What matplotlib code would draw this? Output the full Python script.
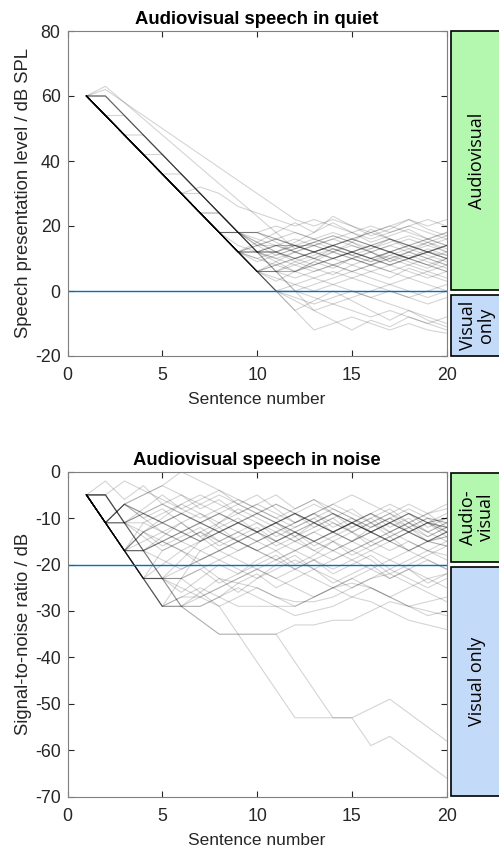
import matplotlib
matplotlib.use("Agg")
import matplotlib.pyplot as plt
from matplotlib.patches import Rectangle

plt.rcParams['font.family'] = ['Liberation Sans', 'DejaVu Sans']
plt.rcParams['axes.unicode_minus'] = False

sentences = list(range(1, 21))

# adaptive tracks, speech in quiet (dB SPL)
quiet_tracks = [
    [60, 54, 48, 42, 36, 30, 24, 18, 12, 12, 14, 14, 12, 14, 16, 14, 12, 14, 12, 10],
    [60, 54, 48, 42, 36, 30, 24, 18, 12, 6, 6, 8, 6, 8, 10, 8, 10, 12, 10, 8],
    [60, 54, 48, 42, 36, 30, 24, 18, 12, 6, 0, 2, 4, 6, 4, 6, 8, 6, 4, 6],
    [60, 60, 54, 48, 42, 36, 30, 24, 18, 12, 6, 0, -6, -4, -2, 0, 2, 0, -2, 0],
    [60, 54, 48, 42, 36, 30, 24, 18, 18, 14, 14, 14, 14, 16, 14, 12, 14, 16, 14, 12],
    [60, 54, 48, 42, 36, 30, 24, 18, 12, 6, 0, -6, -12, -10, -8, -10, -12, -10, -12, -13],
    [60, 63, 58, 53, 48, 43, 38, 33, 28, 23, 18, 13, 15, 17, 15, 13, 15, 17, 15, 13],
    [60, 54, 48, 42, 36, 30, 32, 30, 26, 24, 22, 20, 22, 20, 18, 16, 18, 20, 18, 16],
    [60, 54, 54, 48, 42, 36, 30, 24, 18, 18, 16, 14, 12, 10, 12, 10, 8, 10, 8, 10],
    [60, 54, 48, 48, 42, 36, 30, 24, 18, 12, 10, 12, 10, 8, 10, 12, 14, 12, 10, 12],
    [60, 54, 48, 42, 42, 36, 30, 24, 18, 12, 12, 10, 12, 14, 12, 10, 12, 10, 12, 14],
    [60, 54, 48, 42, 36, 36, 30, 24, 18, 12, 14, 12, 10, 12, 10, 8, 6, 8, 10, 8],
    [60, 54, 48, 42, 36, 30, 30, 24, 18, 12, 6, 6, 8, 10, 12, 10, 12, 14, 12, 10],
    [60, 54, 48, 42, 36, 30, 24, 24, 18, 12, 12, 14, 16, 14, 16, 18, 16, 14, 16, 14],
    [60, 54, 48, 42, 36, 30, 24, 18, 12, 14, 16, 18, 16, 14, 12, 14, 12, 10, 12, 14],
    [60, 54, 48, 42, 36, 30, 24, 18, 12, 6, 8, 6, 4, 2, 0, -2, 0, -2, -4, -2],
    [60, 54, 48, 42, 36, 30, 24, 18, 12, 6, 6, 6, 8, 10, 12, 14, 12, 10, 8, 6],
    [60, 54, 48, 42, 36, 30, 24, 18, 18, 18, 20, 18, 16, 18, 16, 14, 12, 14, 16, 18],
    [60, 54, 48, 42, 36, 30, 24, 18, 12, 6, 0, 0, -2, -4, -6, -8, -6, -8, -10, -8],
    [60, 60, 54, 48, 42, 36, 30, 24, 18, 12, 12, 10, 12, 14, 16, 14, 12, 10, 12, 14],
    [60, 54, 48, 42, 36, 30, 24, 18, 12, 12, 12, 14, 12, 10, 8, 10, 12, 10, 8, 6],
    [60, 54, 48, 42, 36, 30, 24, 18, 18, 16, 14, 12, 14, 16, 18, 20, 18, 20, 22, 20],
    [60, 54, 48, 42, 36, 30, 24, 18, 12, 6, 4, 2, 0, 2, 4, 2, 0, -2, 0, 2],
    [60, 54, 48, 42, 36, 30, 24, 18, 12, 14, 16, 14, 12, 10, 12, 14, 16, 14, 12, 14],
    [60, 60, 54, 48, 42, 36, 30, 24, 18, 18, 16, 14, 12, 14, 12, 10, 8, 10, 12, 10],
    [60, 54, 48, 42, 36, 30, 24, 18, 12, 6, 8, 10, 12, 14, 12, 14, 16, 14, 12, 14],
    [60, 54, 48, 42, 36, 30, 24, 18, 12, 12, 10, 8, 10, 8, 6, 8, 10, 8, 6, 4],
    [60, 62, 58, 54, 50, 46, 42, 38, 34, 30, 26, 22, 20, 22, 20, 18, 20, 22, 20, 22],
    [60, 54, 48, 42, 36, 30, 24, 18, 12, 6, 0, -2, -4, -2, 0, -2, -4, -6, -8, -10],
    [60, 54, 48, 42, 36, 30, 24, 18, 12, 10, 12, 10, 8, 10, 12, 10, 8, 10, 12, 10],
    [60, 54, 48, 42, 36, 30, 24, 18, 12, 6, 6, 4, 6, 8, 6, 4, 2, 4, 2, 0],
    [60, 54, 48, 42, 36, 30, 24, 18, 14, 12, 14, 16, 14, 12, 14, 12, 10, 12, 14, 16],
    [60, 54, 48, 42, 36, 30, 24, 18, 12, 10, 8, 10, 12, 14, 16, 18, 20, 18, 16, 18],
    [60, 60, 54, 48, 42, 36, 30, 24, 18, 12, 6, 0, 2, 4, 6, 8, 6, 4, 6, 8],
    [60, 54, 48, 42, 36, 30, 24, 18, 12, 6, 9, 12, 10, 13, 11, 9, 12, 10, 13, 11],
    [60, 54, 48, 42, 36, 30, 24, 18, 18, 15, 12, 15, 18, 21, 18, 15, 17, 19, 16, 14],
    [60, 54, 48, 42, 36, 30, 24, 18, 12, 6, 0, -6, -3, 0, -3, -6, -9, -6, -9, -11],
    [60, 54, 48, 42, 36, 30, 24, 18, 12, 15, 18, 21, 18, 23, 20, 17, 19, 22, 19, 17],
    [60, 54, 48, 42, 36, 30, 24, 24, 18, 15, 12, 9, 11, 13, 11, 9, 11, 13, 11, 9],
    [60, 54, 48, 42, 36, 30, 24, 18, 12, 12, 9, 6, 9, 7, 10, 8, 11, 9, 7, 10],
    [60, 54, 48, 42, 36, 30, 24, 18, 12, 6, 3, 6, 9, 12, 15, 12, 9, 12, 15, 12],
    [60, 60, 54, 48, 42, 36, 30, 24, 18, 14, 11, 13, 15, 13, 11, 13, 16, 14, 12, 11],
    [60, 54, 48, 42, 36, 30, 24, 18, 12, 6, 0, -3, -6, -9, -12, -9, -11, -8, -10, -12],
    [60, 54, 48, 42, 36, 30, 24, 18, 12, 9, 11, 13, 15, 17, 15, 19, 16, 13, 15, 17],
    [60, 54, 48, 42, 36, 30, 24, 18, 18, 18, 15, 12, 14, 12, 10, 12, 9, 11, 9, 7],
    [60, 54, 48, 42, 36, 30, 24, 18, 12, 6, 6, 9, 7, 5, 8, 6, 4, 7, 5, 3],
]

# adaptive tracks, speech in noise (SNR dB)
noise_tracks = [
    [-5, -11, -17, -23, -23, -21, -19, -17, -15, -17, -15, -13, -15, -13, -11, -13, -15, -13, -11, -13],
    [-5, -11, -17, -17, -15, -13, -15, -13, -11, -13, -11, -9, -11, -13, -11, -9, -11, -13, -11, -12],
    [-5, -11, -7, -9, -11, -9, -7, -9, -11, -13, -11, -9, -11, -13, -15, -13, -11, -13, -15, -13],
    [-5, -5, -11, -17, -23, -29, -27, -25, -23, -21, -23, -25, -27, -25, -23, -25, -27, -25, -23, -25],
    [-5, -11, -11, -9, -7, -9, -11, -13, -11, -9, -7, -9, -11, -9, -11, -13, -11, -9, -11, -10],
    [-5, -11, -17, -13, -11, -13, -15, -13, -11, -13, -15, -17, -15, -13, -15, -17, -15, -13, -15, -14],
    [-5, -11, -17, -23, -29, -29, -32, -35, -35, -35, -35, -41, -47, -53, -53, -59, -57, -60, -63, -66],
    [-5, -5, -11, -17, -23, -23, -26, -29, -35, -41, -47, -53, -53, -53, -53, -51, -49, -52, -55, -58],
    [-5, -11, -17, -23, -23, -29, -32, -35, -35, -35, -35, -33, -33, -32, -32, -30, -28, -29, -30, -31],
    [-5, -11, -17, -17, -23, -23, -21, -19, -21, -23, -21, -19, -21, -23, -25, -23, -21, -23, -25, -23],
    [-5, -5, -11, -11, -9, -7, -5, -7, -9, -7, -9, -11, -9, -7, -9, -11, -9, -11, -9, -8],
    [-5, -11, -7, -5, -3, -5, -7, -5, -7, -9, -11, -9, -7, -9, -11, -13, -11, -13, -11, -12],
    [-5, -11, -17, -23, -23, -25, -27, -29, -27, -25, -27, -29, -27, -25, -27, -25, -27, -29, -31, -30],
    [-5, -5, -2, -4, -6, -8, -10, -8, -6, -8, -10, -12, -10, -8, -10, -12, -10, -8, -10, -11],
    [-5, -11, -17, -23, -29, -23, -17, -15, -13, -15, -17, -15, -13, -11, -13, -15, -13, -11, -13, -15],
    [-5, -11, -7, -5, -3, 0, -2, -4, -6, -8, -10, -8, -6, -8, -10, -12, -10, -12, -14, -12],
    [-5, -11, -17, -17, -15, -17, -19, -17, -15, -17, -19, -21, -19, -17, -19, -21, -19, -17, -19, -21],
    [-5, -11, -11, -17, -15, -13, -11, -13, -15, -17, -15, -13, -15, -17, -15, -13, -15, -13, -15, -16],
    [-5, -11, -17, -23, -29, -29, -26, -23, -24, -25, -27, -28, -28, -27, -25, -23, -22, -24, -26, -28],
    [-5, -11, -17, -23, -23, -19, -15, -11, -9, -11, -13, -11, -9, -7, -5, -7, -9, -7, -9, -7],
    [-5, -11, -7, -9, -11, -13, -15, -13, -11, -9, -11, -13, -15, -13, -11, -13, -11, -13, -15, -13],
    [-5, -5, -11, -17, -15, -13, -11, -9, -11, -13, -15, -13, -11, -13, -11, -9, -11, -9, -11, -13],
    [-5, -11, -17, -23, -23, -29, -29, -27, -25, -27, -29, -31, -30, -29, -27, -28, -30, -32, -33, -34],
    [-5, -11, -11, -9, -11, -13, -11, -9, -11, -13, -11, -13, -15, -13, -11, -13, -15, -17, -15, -13],
    [-5, -11, -17, -11, -13, -15, -13, -11, -13, -15, -13, -11, -9, -11, -13, -11, -13, -11, -13, -11],
    [-5, -11, -17, -17, -19, -21, -19, -17, -19, -21, -23, -21, -23, -25, -23, -21, -23, -21, -19, -21],
    [-5, -5, -11, -9, -7, -9, -11, -9, -7, -9, -11, -13, -11, -9, -11, -13, -11, -9, -11, -9],
    [-5, -11, -17, -23, -17, -15, -13, -15, -17, -15, -13, -15, -17, -19, -17, -15, -17, -15, -17, -18],
    [-5, -11, -17, -15, -13, -15, -17, -19, -17, -15, -13, -15, -13, -15, -17, -15, -13, -15, -17, -15],
    [-5, -11, -7, -9, -11, -9, -11, -13, -11, -9, -7, -9, -11, -13, -11, -13, -15, -13, -11, -12],
    [-5, -11, -17, -23, -29, -27, -27, -25, -23, -21, -19, -17, -19, -21, -19, -17, -19, -21, -23, -22],
    [-5, -11, -11, -13, -11, -9, -11, -13, -15, -13, -11, -9, -11, -9, -11, -9, -7, -9, -11, -10],
    [-5, -11, -17, -23, -29, -27, -25, -27, -29, -29, -29, -29, -27, -25, -24, -25, -27, -29, -28, -27],
    [-5, -11, -17, -13, -15, -17, -15, -13, -15, -17, -19, -17, -15, -17, -15, -13, -15, -17, -15, -14],
    [-5, -11, -7, -10, -8, -11, -9, -12, -10, -13, -11, -14, -12, -10, -13, -11, -14, -12, -10, -13],
    [-5, -11, -17, -13, -16, -14, -12, -15, -13, -11, -14, -12, -10, -13, -11, -9, -12, -10, -13, -11],
    [-5, -2, -6, -3, -7, -5, -8, -6, -9, -7, -5, -8, -6, -9, -12, -10, -8, -11, -9, -12],
    [-5, -11, -17, -23, -20, -17, -20, -23, -26, -23, -20, -18, -21, -19, -17, -19, -22, -20, -18, -16],
    [-5, -11, -11, -14, -17, -15, -13, -16, -14, -12, -15, -13, -16, -14, -12, -10, -13, -11, -14, -12],
    [-5, -5, -11, -8, -5, -8, -6, -4, -7, -5, -8, -11, -9, -12, -10, -13, -11, -9, -12, -10],
    [-5, -11, -17, -23, -23, -26, -23, -20, -22, -19, -17, -20, -18, -15, -13, -16, -14, -12, -15, -13],
    [-5, -11, -7, -10, -13, -11, -14, -17, -15, -13, -11, -9, -12, -10, -8, -11, -9, -12, -10, -11],
    [-5, -11, -17, -17, -14, -11, -14, -12, -15, -13, -16, -14, -17, -15, -18, -16, -14, -17, -15, -16],
    [-5, -11, -17, -23, -29, -29, -29, -27, -24, -22, -25, -23, -21, -24, -22, -20, -23, -21, -24, -22],
    [-5, -5, -11, -17, -23, -23, -21, -24, -22, -20, -18, -21, -19, -22, -20, -18, -21, -19, -17, -19],
    [-5, -11, -17, -13, -10, -7, -9, -11, -8, -10, -12, -14, -11, -13, -15, -12, -10, -13, -11, -14],
]

quiet_limit = 0
noise_limit = -20

W, H = 499, 850
fig = plt.figure(figsize=(W / 100, H / 100), dpi=100)

axis_col = '#262626'
spine_col = '#7f7f7f'


def px_rect(x0, y0, x1, y1):
    # pixel box (from top-left) -> figure fraction rect
    return [x0 / W, 1 - y1 / H, (x1 - x0) / W, (y1 - y0) / H]


def style_axes(ax):
    ax.tick_params(direction='in', length=4, width=0.8, colors=axis_col,
                   labelsize=12.8, top=True, right=True)
    ax.tick_params(axis='x', pad=8)
    ax.tick_params(axis='y', pad=5)
    for s in ax.spines.values():
        s.set_color(spine_col)
        s.set_linewidth(0.8)


ax1 = fig.add_axes(px_rect(67.5, 31, 446.7, 356))
for tr in quiet_tracks:
    ax1.plot(sentences, tr, color='black', alpha=0.17, lw=0.8)
ax1.axhline(quiet_limit, color='#0072BD', lw=1.0)
ax1.set_xlim(0, 20)
ax1.set_ylim(-20, 80)
ax1.set_xticks([0, 5, 10, 15, 20])
ax1.set_yticks([-20, 0, 20, 40, 60, 80])
ax1.set_title('Audiovisual speech in quiet', fontsize=13.3, fontweight='bold', pad=5)
ax1.set_xlabel('Sentence number', fontsize=12.5, color=axis_col, labelpad=6)
ax1.set_ylabel('Speech presentation level / dB SPL', fontsize=13.3, color=axis_col, labelpad=2)
style_axes(ax1)

ax2 = fig.add_axes(px_rect(67.5, 471.7, 446.7, 796.7))
for tr in noise_tracks:
    ax2.plot(sentences, tr, color='black', alpha=0.17, lw=0.8)
ax2.axhline(noise_limit, color='#0072BD', lw=1.0)
ax2.set_xlim(0, 20)
ax2.set_ylim(-70, 0)
ax2.set_xticks([0, 5, 10, 15, 20])
ax2.set_yticks(list(range(-70, 1, 10)))
ax2.set_title('Audiovisual speech in noise', fontsize=13.3, fontweight='bold', pad=5)
ax2.set_xlabel('Sentence number', fontsize=12.5, color=axis_col, labelpad=6)
ax2.set_ylabel('Signal-to-noise ratio / dB', fontsize=13.3, color=axis_col, labelpad=2)
style_axes(ax2)

# condition boxes at right edge
green = '#b4f8b0'
blue = '#c3dbf8'
boxes = [
    (31, 290, green, 'Audiovisual'),
    (294.7, 356, blue, 'Visual\nonly'),
    (472.7, 562.3, green, 'Audio-\nvisual'),
    (566.7, 795.7, blue, 'Visual only'),
]
for y0, y1, col, label in boxes:
    x0, y0f, w, h = px_rect(451, y0, 510, y1)
    fig.patches.append(Rectangle((x0, y0f), w, h, transform=fig.transFigure,
                                 facecolor=col, edgecolor='black', lw=1.2))
    fig.text(477 / W, 1 - (y0 + y1) / 2 / H, label, rotation=90,
             ha='center', va='center', fontsize=13, family=['Open Sans', 'DejaVu Sans'],
             linespacing=0.95, multialignment='center')

fig.savefig('out.png', dpi=100)
